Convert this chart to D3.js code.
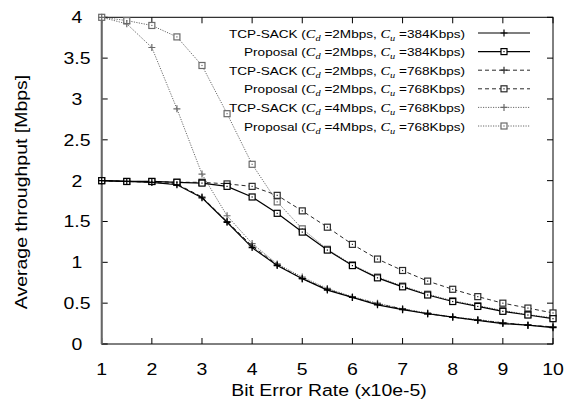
<!DOCTYPE html>
<html>
<head>
<meta charset="utf-8">
<script src="https://cdn.jsdelivr.net/npm/d3@7"></script>
<style>
  html, body { margin: 0; padding: 0; background: #fff; }
  svg text { font-family: "Liberation Sans", Arial, sans-serif; fill: #000; }
</style>
</head>
<body>
<svg id="chart" width="574" height="401"></svg>
<script>
// Bit error rate (x10e-5)
const ber = [1, 1.5, 2, 2.5, 3, 3.5, 4, 4.5, 5, 5.5, 6, 6.5, 7, 7.5, 8, 8.5, 9, 9.5, 10];

// throughput [Mbps]
const tcpSack2_384  = [2.00, 1.99, 1.98, 1.95, 1.79, 1.49, 1.18, 0.96, 0.80, 0.66, 0.57, 0.48, 0.42, 0.37, 0.33, 0.29, 0.25, 0.23, 0.20];
const proposal2_384 = [2.00, 1.99, 1.99, 1.98, 1.97, 1.93, 1.80, 1.60, 1.37, 1.15, 0.96, 0.81, 0.70, 0.60, 0.52, 0.46, 0.40, 0.355, 0.31];
const tcpSack2_768  = [2.00, 1.99, 1.98, 1.96, 1.80, 1.50, 1.20, 0.97, 0.80, 0.67, 0.57, 0.49, 0.43, 0.37, 0.33, 0.29, 0.26, 0.23, 0.21];
const proposal2_768 = [2.00, 1.99, 1.99, 1.98, 1.98, 1.96, 1.93, 1.82, 1.63, 1.43, 1.22, 1.04, 0.90, 0.77, 0.67, 0.58, 0.50, 0.44, 0.38];
const tcpSack4_768  = [4.00, 3.92, 3.63, 2.88, 2.08, 1.57, 1.23, 0.98, 0.82, 0.68, 0.58, 0.50, 0.43, 0.38, 0.33, 0.30, 0.26, 0.23, 0.21];
const proposal4_768 = [4.00, 3.96, 3.90, 3.76, 3.41, 2.82, 2.20, 1.74, 1.41, 1.16, 0.97, 0.82, 0.71, 0.61, 0.53, 0.47, 0.41, 0.36, 0.32];

const xTicks = [1, 2, 3, 4, 5, 6, 7, 8, 9, 10];
const yTicks = [0, 0.5, 1, 1.5, 2, 2.5, 3, 3.5, 4];

// legend rows: name, Cd, Cu, line style, marker
const seriesNames = ["TCP-SACK", "Proposal", "TCP-SACK", "Proposal", "TCP-SACK", "Proposal"];
const seriesCd = ["2Mbps", "2Mbps", "2Mbps", "2Mbps", "4Mbps", "4Mbps"];
const seriesCu = ["384Kbps", "384Kbps", "768Kbps", "768Kbps", "768Kbps", "768Kbps"];
const seriesStyle = ["solid", "solid", "dashed", "dashed", "dotted", "dotted"];
const seriesMarker = ["plus", "square", "plus", "square", "plus", "square"];
const seriesValues = [tcpSack2_384, proposal2_384, tcpSack2_768, proposal2_768, tcpSack4_768, proposal4_768];

const styles = {
  solid:  { color: "#000", width: 1.2, dash: null },
  dashed: { color: "#2a2a2a", width: 1, dash: "4,3" },
  dotted: { color: "#6a6a6a", width: 1, dash: "1.2,1.3" }
};

const W = 574, H = 401;
const margin = { left: 101.7, right: 21, top: 17.3, bottom: 57 };
const sx = 1.18; // gnuplot text is a bit wider than Liberation Sans

const svg = d3.select("#chart");

const x = d3.scaleLinear().domain([1, 10]).range([margin.left, W - margin.right]);
const y = d3.scaleLinear().domain([0, 4]).range([H - margin.bottom, margin.top]);

function stretchedText(g, tx, ty, str, size, anchor, rot) {
  return g.append("text")
    .attr("transform", `translate(${tx},${ty})` + (rot ? ` rotate(${rot})` : "") + ` scale(${sx},1)`)
    .attr("text-anchor", anchor)
    .attr("font-size", size)
    .text(str);
}

// ticks on all four sides, pointing inward
const tickLen = 6;
const frame = svg.append("g").attr("stroke", "#000").attr("stroke-width", 1);
xTicks.forEach(t => {
  frame.append("line").attr("x1", x(t)).attr("x2", x(t)).attr("y1", y(0)).attr("y2", y(0) - tickLen);
  frame.append("line").attr("x1", x(t)).attr("x2", x(t)).attr("y1", y(4)).attr("y2", y(4) + tickLen);
  stretchedText(svg, x(t), 375, t, 16.5, "middle");
});
yTicks.forEach(t => {
  frame.append("line").attr("x1", x(1)).attr("x2", x(1) + tickLen).attr("y1", y(t)).attr("y2", y(t));
  frame.append("line").attr("x1", x(10)).attr("x2", x(10) - tickLen).attr("y1", y(t)).attr("y2", y(t));
  stretchedText(svg, 77, y(t) + 6, t, 16.5, "middle");
});

// border
frame.append("rect")
  .attr("x", x(1)).attr("y", y(4))
  .attr("width", x(10) - x(1)).attr("height", y(0) - y(4))
  .attr("fill", "none");
svg.append("line")
  .attr("x1", x(1)).attr("x2", x(1)).attr("y1", y(0)).attr("y2", y(4))
  .attr("stroke", "#666").attr("stroke-width", 2);

// axis titles
stretchedText(svg, 329, 396, "Bit Error Rate (x10e-5)", 16.5, "middle");
stretchedText(svg, 27, 192, "Average throughput [Mbps]", 16.5, "middle", -90);

function drawMarker(g, kind, cx, cy, color) {
  if (kind === "plus") {
    g.append("path")
      .attr("d", `M${cx - 3.5},${cy}H${cx + 3.5}M${cx},${cy - 3.5}V${cy + 3.5}`)
      .attr("stroke", color).attr("stroke-width", 1.2).attr("fill", "none");
  } else {
    g.append("rect")
      .attr("x", cx - 3).attr("y", cy - 3).attr("width", 6).attr("height", 6)
      .attr("stroke", color).attr("stroke-width", 1.2).attr("fill", "#fff");
    g.append("rect")
      .attr("x", cx - 0.6).attr("y", cy - 0.6).attr("width", 1.2).attr("height", 1.2)
      .attr("fill", color);
  }
}

const line = d3.line().x(d => x(d[0])).y(d => y(d[1]));
const plot = svg.append("g");

// draw in reverse so the solid series lie on top
d3.range(seriesValues.length).reverse().forEach(i => {
  const st = styles[seriesStyle[i]];
  const pts = ber.map((b, k) => [b, seriesValues[i][k]]);
  plot.append("path")
    .attr("d", line(pts))
    .attr("fill", "none")
    .attr("stroke", st.color)
    .attr("stroke-width", st.width)
    .attr("stroke-dasharray", st.dash);
  const mg = plot.append("g");
  pts.forEach(p => drawMarker(mg, seriesMarker[i], x(p[0]), y(p[1]), st.color));
});

// legend
const legend = svg.append("g");
const rowY = d3.range(6).map(i => 33 + i * 18.6);
seriesNames.forEach((name, i) => {
  const t = legend.append("text")
    .attr("transform", `translate(465,${rowY[i] + 4.5}) scale(1.15,1)`)
    .attr("text-anchor", "end")
    .attr("font-size", 11.8);
  t.append("tspan").text(name + " (");
  t.append("tspan").attr("font-family", "Liberation Serif").attr("font-style", "italic").attr("font-size", 12.5).text("C");
  t.append("tspan").attr("font-family", "Liberation Serif").attr("font-style", "italic").attr("font-size", 9).attr("dy", 3).text("d");
  t.append("tspan").attr("dy", -3).text(" =" + seriesCd[i] + ", ");
  t.append("tspan").attr("font-family", "Liberation Serif").attr("font-style", "italic").attr("font-size", 12.5).text("C");
  t.append("tspan").attr("font-family", "Liberation Serif").attr("font-style", "italic").attr("font-size", 9).attr("dy", 3).text("u");
  t.append("tspan").attr("dy", -3).text(" =" + seriesCu[i] + ")");

  const st = styles[seriesStyle[i]];
  legend.append("line")
    .attr("x1", 478).attr("x2", 530).attr("y1", rowY[i]).attr("y2", rowY[i])
    .attr("stroke", st.color).attr("stroke-width", st.width)
    .attr("stroke-dasharray", st.dash);
  drawMarker(legend, seriesMarker[i], 504, rowY[i], st.color);
});
</script>
</body>
</html>
